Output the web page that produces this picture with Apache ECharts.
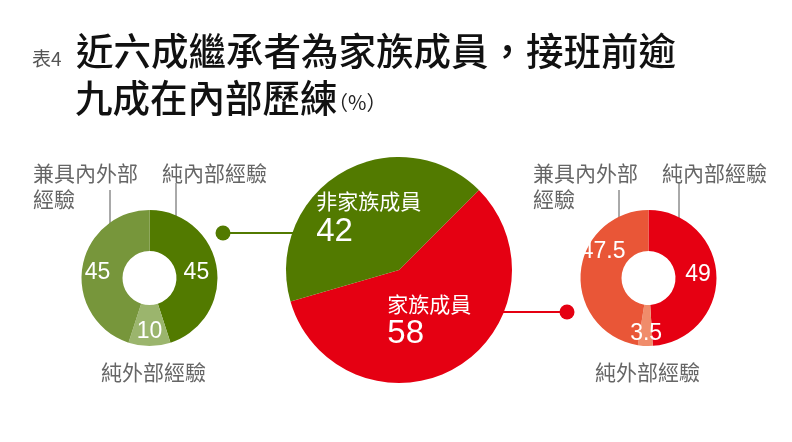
<!DOCTYPE html>
<html><head><meta charset="utf-8">
<script src="https://cdn.jsdelivr.net/npm/echarts@6/dist/echarts.min.js"></script>
<style>html,body{margin:0;padding:0;background:#fff}#c{width:792px;height:442px}</style>
</head><body><div id="c"></div>
<script>
const titleTag = '表4';
const titleLine1 = '近六成繼承者為家族成員，接班前逾';
const titleLine2 = '九成在內部歷練';
const titleUnit = '（%）';
const centerNames = ['家族成員', '非家族成員'];
const centerValues = [58, 42];
const donutNames = ['純內部經驗', '純外部經驗', '兼具內外部\n經驗'];
const nonFamilyValues = [45, 10, 45];
const familyValues = [49, 3.5, 47.5];

const GREEN = '#527a00', RED = '#e50012';
const greenShades = ['#527a00', '#9bb56d', '#77963b'];
const redShades = ['#e60012', '#f08c6b', '#e95637'];
const CJK = '"Noto Sans CJK TC", "Noto Sans CJK SC", sans-serif';
const NUM = '"Liberation Sans", Arial, sans-serif';

const chart = echarts.init(document.getElementById('c'));

function donut(center, values, colors, tweaks) {
  return {
    type: 'pie', center: center, radius: [27, 68], startAngle: 90, clockwise: true,
    silent: true,
    data: values.map((v, i) => ({ name: donutNames[i], value: v, itemStyle: { color: colors[i] } })),
    label: { show: true, position: 'inside', formatter: p => String(p.value), color: '#fff', fontSize: 23, fontFamily: NUM },
    labelLine: { show: false },
    labelLayout: p => tweaks[p.dataIndex] || {}
  };
}

const LBL = '21px ' + CJK;
const graphics = [
  { type: 'text', left: 32, top: 49, style: { text: titleTag, font: '19px ' + CJK, fill: '#555' } },
  { type: 'text', left: 76, top: 32, style: { text: titleLine1, font: '500 37.5px ' + CJK, fill: '#111' } },
  { type: 'text', left: 75, top: 79, style: { text: titleLine2, font: '500 37.5px ' + CJK, fill: '#111' } },
  { type: 'text', left: 328, top: 92, style: { text: titleUnit, font: '20px ' + CJK, fill: '#222' } },
  // leader lines left donut
  { type: 'line', shape: { x1: 110, y1: 190, x2: 110, y2: 237 }, style: { stroke: '#555', lineWidth: 1 } },
  { type: 'line', shape: { x1: 176, y1: 183, x2: 176, y2: 237 }, style: { stroke: '#555', lineWidth: 1 } },
  // leader lines right donut
  { type: 'line', shape: { x1: 619, y1: 190, x2: 619, y2: 237 }, style: { stroke: '#555', lineWidth: 1 } },
  { type: 'line', shape: { x1: 679, y1: 183, x2: 679, y2: 237 }, style: { stroke: '#555', lineWidth: 1 } },
  // connectors
  { type: 'line', shape: { x1: 223, y1: 233, x2: 294, y2: 233 }, style: { stroke: GREEN, lineWidth: 2 } },
  { type: 'circle', shape: { cx: 223, cy: 233, r: 7.5 }, style: { fill: GREEN } },
  { type: 'line', shape: { x1: 503, y1: 312, x2: 567, y2: 312 }, style: { stroke: RED, lineWidth: 2 } },
  { type: 'circle', shape: { cx: 567, cy: 312, r: 7.5 }, style: { fill: RED } }
];

// outer category labels (text from donutNames)
[34, 534].forEach(x0 => {
  graphics.push({ type: 'text', left: x0 - 1, top: 160, style: { text: donutNames[2], font: LBL, fill: '#666', lineHeight: 26 } });
  graphics.push({ type: 'text', left: x0 + 128, top: 160, style: { text: donutNames[0], font: LBL, fill: '#666', lineHeight: 26 } });
});
graphics.push({ type: 'text', left: 101, top: 359, style: { text: donutNames[1], font: LBL, fill: '#666', lineHeight: 26 } });
graphics.push({ type: 'text', left: 595, top: 359, style: { text: donutNames[1], font: LBL, fill: '#666', lineHeight: 26 } });

chart.setOption({
  animation: false,
  graphic: graphics,
  series: [
    {
      type: 'pie', center: [399, 270], radius: [0, 113], startAngle: 45, clockwise: true, silent: true,
      data: centerValues.map((v, i) => ({ name: centerNames[i], value: v, itemStyle: { color: i === 0 ? RED : GREEN } })),
      label: {
        show: true, position: 'inside', color: '#fff',
        formatter: p => '{n|' + p.name + '}\n{v|' + p.value + '}',
        rich: {
          n: { fontSize: 21, fontFamily: CJK, color: '#fff', lineHeight: 26, align: 'left' },
          v: { fontSize: 33, fontFamily: NUM, color: '#fff', lineHeight: 35, align: 'left' }
        }
      },
      labelLine: { show: false }
    },
    donut([149.5, 278], nonFamilyValues, greenShades, { 0: { dx: -3, dy: 3 }, 1: { dy: 3 }, 2: { dx: -2, dy: 3 } }),
    donut([648.5, 278], familyValues, redShades, { 0: { dx: -1, dy: -2 }, 1: { dy: 5 }, 2: { dx: 5, dy: -22 } })
  ]
});
</script></body></html>
